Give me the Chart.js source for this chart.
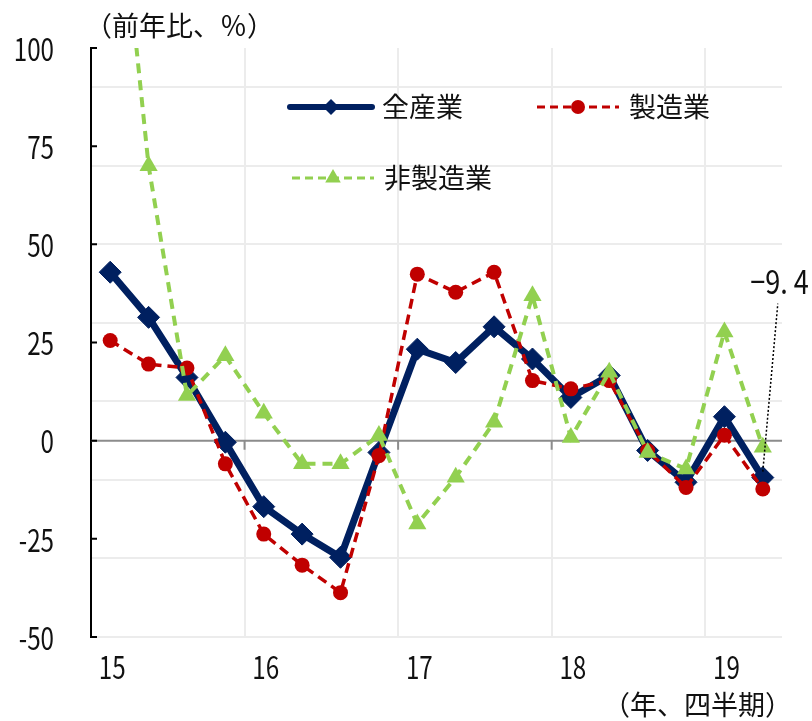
<!DOCTYPE html>
<html lang="ja">
<head>
<meta charset="utf-8">
<script src="https://cdn.jsdelivr.net/npm/chart.js@4.4.1/dist/chart.umd.min.js"></script>
<style>
  html, body { margin: 0; padding: 0; background: #fff; }
  #wrap { width: 812px; height: 721px; }
</style>
</head>
<body>
<div id="wrap"><canvas id="chart" width="812" height="721"></canvas></div>
<script>
// 四半期ラベル（各年の第1四半期のみ表示）
const quarterLabels = ['15', '', '', '', '16', '', '', '', '17', '', '', '', '18', '', '', '', '19', ''];

// 前年比（％）
const allIndustries = [42.9, 31.4, 16.1, -0.4, -16.8, -23.8, -29.7, -3.0, 23.3, 19.9, 29.0, 20.8, 11.0, 16.6, -2.5, -10.6, 6.1, -9.4];
const manufacturing = [25.5, 19.5, 18.5, -5.9, -23.8, -31.7, -38.7, -3.8, 42.4, 37.8, 42.9, 15.3, 13.2, 15.3, -2.5, -11.9, 1.4, -12.3];
const nonManufacturing = [165, 70, 11.5, 21.6, 7.0, -5.9, -5.9, 1.3, -21.2, -9.3, 4.7, 36.9, 0.8, 17.4, -3.0, -7.2, 27.7, -1.7];

const seriesNames = ['全産業', '製造業', '非製造業'];
const yTickValues = [-50, -25, 0, 25, 50, 75, 100];
const gridValues = [-50, -30, -10, 10, 30, 50, 70, 90];

const NAVY = '#002060';
const RED = '#C00000';
const GREEN = '#92D050';
const JP_FONT = '"Noto Sans CJK JP", sans-serif';
const NUM_FONT = '"Noto Sans CJK JP", sans-serif';

function drawMarker(ctx, shape, x, y, r, color) {
  ctx.save();
  ctx.fillStyle = color;
  ctx.setLineDash([]);
  ctx.beginPath();
  if (shape === 'rectRot') {
    ctx.moveTo(x - r, y);
    ctx.lineTo(x, y - r);
    ctx.lineTo(x + r, y);
    ctx.lineTo(x, y + r);
  } else if (shape === 'triangle') {
    ctx.moveTo(x, y - r);
    ctx.lineTo(x + r * 0.866, y + r / 2);
    ctx.lineTo(x - r * 0.866, y + r / 2);
  } else {
    ctx.arc(x, y, r, 0, Math.PI * 2);
  }
  ctx.closePath();
  ctx.fill();
  ctx.restore();
}

// 細身の数字（横方向に圧縮して描く）
function narrowText(ctx, text, x, y, align, sx) {
  ctx.save();
  ctx.translate(x, y);
  ctx.scale(sx || 0.78, 1);
  ctx.textAlign = align;
  ctx.fillText(text, 0, 0);
  ctx.restore();
}

// ゼロ線・軸目盛・目盛ラベル・凡例・注記
const decorations = {
  id: 'decorations',
  beforeDatasetsDraw(chart) {
    const { ctx, chartArea: a, scales: { x, y } } = chart;
    ctx.save();
    const y0 = y.getPixelForValue(0);
    ctx.strokeStyle = '#8c8c8c';
    ctx.lineWidth = 2;
    ctx.beginPath();
    ctx.moveTo(a.left, y0);
    ctx.lineTo(a.right, y0);
    [4, 8, 12].forEach(i => {
      const gx = (x.getPixelForValue(i - 1) + x.getPixelForValue(i)) / 2;
      ctx.moveTo(gx, y0);
      ctx.lineTo(gx, y0 + 9);
    });
    ctx.stroke();

    ctx.strokeStyle = '#000';
    ctx.beginPath();
    yTickValues.forEach(v => {
      const py = y.getPixelForValue(v);
      ctx.moveTo(a.left, py);
      ctx.lineTo(a.left + 6, py);
    });
    ctx.stroke();

    ctx.fillStyle = '#111';
    ctx.textBaseline = 'middle';
    ctx.font = '31px ' + NUM_FONT;
    yTickValues.forEach(v => {
      narrowText(ctx, String(v), a.left - 37, y.getPixelForValue(v) + 1, 'right');
    });
    quarterLabels.forEach((lab, i) => {
      if (lab) narrowText(ctx, lab, x.getPixelForValue(i) + 2, a.bottom + 30, 'center');
    });
    ctx.restore();
  },
  afterDraw(chart) {
    const { ctx, chartArea: a, scales: { x, y } } = chart;
    ctx.save();
    ctx.fillStyle = '#111';
    ctx.textBaseline = 'middle';
    ctx.font = '27px ' + JP_FONT;
    ctx.textAlign = 'left';
    ctx.fillText('（前年比、％）', 85, 26);
    ctx.textAlign = 'right';
    ctx.fillText('（年、四半期）', a.right + 10, 705);

    // 凡例
    const legend = [
      { name: seriesNames[0], color: NAVY, shape: 'rectRot', r: 8, width: 6, dash: [], lx: 290, ty: 107 },
      { name: seriesNames[1], color: RED, shape: 'circle', r: 7, width: 3, dash: [8, 5], lx: 537, ty: 107 },
      { name: seriesNames[2], color: GREEN, shape: 'triangle', r: 9, width: 3, dash: [8, 5], lx: 292, ty: 178 }
    ];
    legend.forEach(item => {
      ctx.save();
      ctx.strokeStyle = item.color;
      ctx.lineWidth = item.width;
      ctx.lineCap = item.dash.length ? 'butt' : 'round';
      ctx.setLineDash(item.dash);
      ctx.beginPath();
      ctx.moveTo(item.lx, item.ty);
      ctx.lineTo(item.lx + 82, item.ty);
      ctx.stroke();
      ctx.restore();
      drawMarker(ctx, item.shape, item.lx + 41, item.ty, item.r, item.color);
      ctx.fillStyle = '#111';
      ctx.textAlign = 'left';
      ctx.font = '27px ' + JP_FONT;
      ctx.fillText(item.name, item.lx + 92, item.ty);
    });

    // 直近値の注記
    const last = allIndustries.length - 1;
    const px = x.getPixelForValue(last);
    const py = y.getPixelForValue(allIndustries[last]);
    ctx.strokeStyle = '#000';
    ctx.lineWidth = 1.5;
    ctx.setLineDash([2, 2]);
    ctx.beginPath();
    ctx.moveTo(px, py - 6);
    ctx.lineTo(px + 15, py - 174);
    ctx.stroke();
    ctx.setLineDash([]);
    ctx.fillStyle = '#111';
    ctx.font = '33px ' + NUM_FONT;
    narrowText(ctx, allIndustries[last].toFixed(1).replace('-', '−').replace('.', '. '), px + 46, py - 196, 'right', 0.82);
    ctx.restore();
  }
};

new Chart(document.getElementById('chart'), {
  type: 'line',
  data: {
    labels: quarterLabels,
    datasets: [
      {
        label: seriesNames[0],
        data: allIndustries,
        borderColor: NAVY,
        backgroundColor: NAVY,
        borderWidth: 7,
        pointStyle: 'rectRot',
        pointRadius: 11,
        pointBorderWidth: 1,
        pointBorderColor: NAVY,
        order: 3
      },
      {
        label: seriesNames[1],
        data: manufacturing,
        borderColor: RED,
        backgroundColor: RED,
        borderWidth: 3.5,
        borderDash: [10, 6],
        pointStyle: 'circle',
        pointRadius: 7.5,
        pointBorderWidth: 0,
        order: 2
      },
      {
        label: seriesNames[2],
        data: nonManufacturing,
        borderColor: GREEN,
        backgroundColor: GREEN,
        borderWidth: 4,
        borderDash: [10, 7],
        pointStyle: 'triangle',
        pointRadius: 10.5,
        pointBorderWidth: 0,
        order: 1
      }
    ]
  },
  options: {
    responsive: false,
    animation: false,
    layout: { padding: { top: 48, right: 30, bottom: 34, left: 0 } },
    plugins: {
      legend: { display: false },
      tooltip: { enabled: false }
    },
    scales: {
      x: {
        offset: true,
        afterFit: scale => { scale.height = 50; },
        border: { display: false },
        grid: {
          offset: true,
          drawTicks: false,
          lineWidth: 2,
          color: ctx => (ctx.index > 0 && ctx.index < quarterLabels.length && ctx.index % 4 === 0) ? '#ececec' : 'rgba(0,0,0,0)'
        },
        ticks: { display: false, autoSkip: false }
      },
      y: {
        min: -50,
        max: 100,
        afterFit: scale => { scale.width = 91; },
        afterBuildTicks: scale => { scale.ticks = yTickValues.map(v => ({ value: v })); },
        border: { display: true, color: '#000', width: 2, dash: [3, 2] },
        grid: { drawOnChartArea: false, drawTicks: false },
        ticks: { display: false }
      },
      yg: {
        position: 'right',
        min: -50,
        max: 100,
        afterFit: scale => { scale.width = 0; },
        afterBuildTicks: scale => { scale.ticks = gridValues.map(v => ({ value: v })); },
        border: { display: false },
        grid: { drawTicks: false, lineWidth: 2, color: '#ececec' },
        ticks: { display: false }
      }
    }
  },
  plugins: [decorations]
});
</script>
</body>
</html>
